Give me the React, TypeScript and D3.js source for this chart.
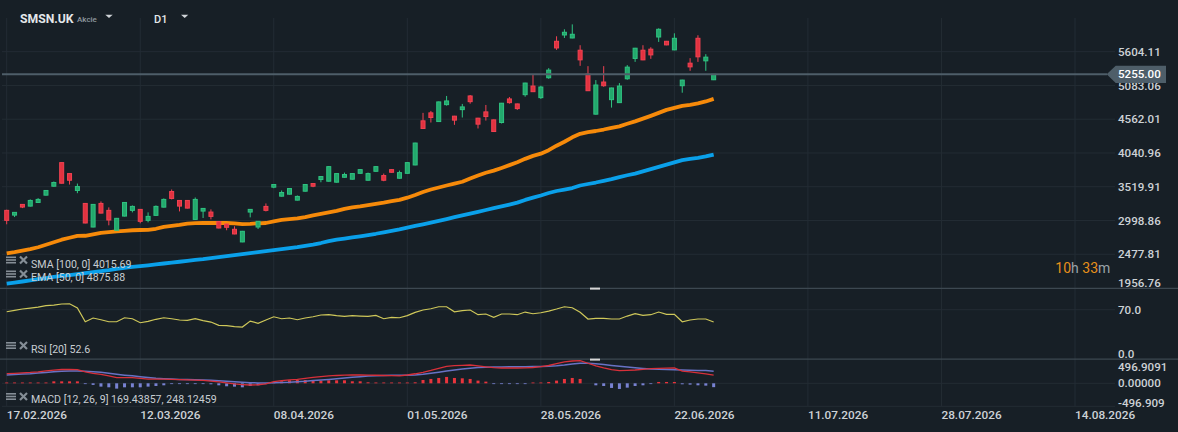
import React from "react";
import * as d3 from "d3";

const symbolName = "SMSN.UK";
const assetType = "Akcie";
const timeframe = "D1";
const legendSMA = "SMA [100, 0] 4015.69";
const legendEMA = "EMA [50, 0] 4875.88";
const legendRSI = "RSI [20] 52.6";
const legendMACD = "MACD [12, 26, 9] 169.43857, 248.12459";
const countdown = ["10", "h ", "33", "m"];

const dateLabels = ["17.02.2026", "12.03.2026", "08.04.2026", "01.05.2026", "28.05.2026", "22.06.2026", "11.07.2026", "28.07.2026", "14.08.2026"];
const dateTickIdx = [0, 17, 34, 51, 68, 85, 102, 119, 136];

const priceTicks = [5604.11, 5083.06, 4562.01, 4040.96, 3519.91, 2998.86, 2477.81, 1956.76];
const priceTickLabels = ["5604.11", "5083.06", "4562.01", "4040.96", "3519.91", "2998.86", "2477.81", "1956.76"];
const rsiTicks = [70, 0];
const rsiTickLabels = ["70.0", "0.0"];
const macdTicks = [496.9091, 0, -496.909];
const macdTickLabels = ["496.9091", "0.00000", "-496.909"];
const lastPrice = 5255.0;
const lastPriceLabel = "5255.00";

const openP = [3155, 3082, 3247, 3221, 3277, 3390, 3528, 3892, 3723, 3462,
  3262, 2898, 3262, 3155, 2848, 3067, 3155, 3170, 3001, 3078,
  3205, 3446, 3308, 3308, 3016, 3144, 3129, 2981, 2944, 2863,
  2668, 3129, 2898, 3216, 3513, 3374, 3405, 3313, 3451, 3569,
  3631, 3605, 3590, 3666, 3636, 3727, 3620, 3758, 3692, 3784,
  3651, 3727, 3856, 4537, 4660, 4526, 4787, 4609, 4710, 4921,
  4578, 4675, 4552, 4511, 4875, 4798, 4941, 5074, 4895, 5202,
  5765, 5862, 5816, 5627, 5259, 4640, 5136, 4864, 4818, 5186,
  5500, 5627, 5643, 5831, 5765, 5632, 5079, 5427, 5811, 5463,
  5171];
const highP = [3165, 3128, 3250, 3324, 3344, 3468, 3600, 3895, 3728, 3569,
  3268, 3250, 3293, 3201, 3038, 3283, 3231, 3175, 3124, 3231,
  3339, 3477, 3313, 3313, 3354, 3190, 3170, 2990, 2950, 2909,
  2838, 3175, 2990, 3262, 3560, 3462, 3498, 3385, 3560, 3575,
  3682, 3836, 3728, 3738, 3728, 3790, 3738, 3836, 3723, 3790,
  3769, 3897, 4199, 4660, 4690, 4834, 4921, 4614, 4798, 4936,
  4583, 4782, 4557, 4813, 4905, 4803, 5125, 5259, 5079, 5351,
  5842, 5950, 6026, 5704, 5381, 5166, 5381, 5049, 5120, 5397,
  5663, 5704, 5673, 5965, 5770, 5888, 5171, 5504, 5858, 5566,
  5259];
const lowP = [2940, 3052, 3190, 3215, 3272, 3385, 3523, 3570, 3554, 3420,
  2955, 2893, 3108, 2924, 2840, 3062, 3124, 2955, 2970, 3072,
  3200, 3324, 3139, 3185, 3010, 3037, 3016, 2878, 2848, 2786,
  2663, 3047, 2867, 3139, 3497, 3369, 3400, 3308, 3446, 3513,
  3589, 3600, 3585, 3661, 3631, 3723, 3615, 3753, 3605, 3738,
  3646, 3723, 3851, 4414, 4511, 4521, 4772, 4475, 4588, 4802,
  4419, 4541, 4368, 4496, 4802, 4706, 4910, 4982, 4875, 5186,
  5632, 5816, 5811, 5386, 4997, 4634, 5063, 4741, 4813, 5171,
  5447, 5473, 5494, 5755, 5704, 5627, 4971, 5309, 5447, 5309,
  5166];
const closeP = [3001, 3124, 3206, 3308, 3324, 3462, 3585, 3574, 3620, 3523,
  2960, 3247, 3113, 3006, 3032, 3277, 3216, 2986, 3062, 3216,
  3324, 3339, 3221, 3190, 3324, 3185, 3062, 2883, 2894, 2791,
  2832, 3170, 2986, 3155, 3554, 3431, 3492, 3370, 3554, 3528,
  3677, 3830, 3723, 3708, 3723, 3784, 3723, 3830, 3620, 3743,
  3738, 3892, 4194, 4419, 4588, 4829, 4844, 4548, 4752, 4833,
  4486, 4603, 4372, 4809, 4818, 4726, 5120, 4987, 5059, 5320,
  5662, 5904, 5873, 5478, 5002, 5090, 5079, 5044, 5074, 5366,
  5658, 5478, 5555, 5950, 5709, 5811, 5166, 5370, 5525, 5520,
  5255];

const emaVals = [2490, 2510, 2533, 2556, 2586, 2625, 2663, 2702, 2732, 2760,
  2763, 2786, 2809, 2820, 2832, 2840, 2848, 2852, 2855, 2871,
  2901, 2917, 2932, 2950, 2958, 2960, 2960, 2960, 2960, 2955,
  2944, 2947, 2955, 2960, 2986, 3009, 3021, 3032, 3052, 3078,
  3101, 3124, 3147, 3178, 3201, 3216, 3235, 3255, 3274, 3296,
  3317, 3351, 3393, 3439, 3477, 3508, 3539, 3569, 3597, 3646,
  3692, 3735, 3769, 3810, 3853, 3899, 3950, 3996, 4030, 4084,
  4153, 4214, 4283, 4337, 4363, 4380, 4403, 4429, 4452, 4491,
  4529, 4571, 4614, 4660, 4706, 4736, 4767, 4783, 4806, 4836,
  4876];
const smaVals = [2023, 2040, 2057, 2074, 2092, 2110, 2129, 2144, 2156, 2172,
  2187, 2203, 2218, 2233, 2252, 2267, 2282, 2295, 2307, 2321,
  2335, 2348, 2362, 2376, 2390, 2402, 2418, 2433, 2448, 2464,
  2479, 2494, 2510, 2525, 2540, 2556, 2571, 2586, 2608, 2628,
  2651, 2679, 2702, 2720, 2737, 2755, 2774, 2794, 2817, 2840,
  2863, 2889, 2914, 2940, 2967, 2993, 3021, 3050, 3078, 3106,
  3133, 3161, 3189, 3216, 3244, 3274, 3316, 3351, 3385, 3423,
  3454, 3477, 3500, 3539, 3562, 3585, 3611, 3638, 3669, 3697,
  3723, 3757, 3792, 3827, 3861, 3896, 3930, 3949, 3964, 3987,
  4016];
const rsiVals = [67.1, 69.1, 71, 72.3, 73.8, 75.7, 76.6, 78.1, 78.5, 72.4,
  52.9, 58.2, 55.8, 52.9, 52.9, 58.6, 57.2, 51.5, 53.5, 56.4,
  58.6, 57.2, 55.4, 54.9, 57.2, 54.6, 52.5, 47.8, 47.3, 46.1,
  45.4, 53.9, 50.7, 55.4, 60, 57.2, 58.2, 55.8, 58.2, 60,
  62.5, 62.9, 61.5, 60.6, 61.5, 61, 60.6, 62, 57.2, 59.2,
  58.6, 61.7, 66.3, 69.6, 71.4, 74.2, 74.2, 67.1, 68.6, 69.6,
  62.9, 63.9, 59.2, 63.9, 63.9, 62.9, 66.7, 64.3, 65.7, 68.1,
  71, 74.2, 72.8, 66.3, 56.8, 57.8, 57.8, 56.8, 56.8, 61,
  64.3, 62, 62.9, 66.7, 63.4, 63.4, 52.9, 55.4, 56.8, 56.8,
  52.6];
const macdVals = [196, 205, 214, 222, 235, 252, 268, 282, 286, 280,
  235, 205, 182, 150, 118, 115, 115, 100, 85, 84,
  87, 82, 76, 70, 64, 58, 45, 30, 10, -12,
  -25, -35, -30, -10, 33, 55, 68, 80, 100, 120,
  135, 150, 160, 166, 170, 170, 168, 165, 160, 155,
  150, 170, 195, 225, 262, 307, 348, 360, 368, 374,
  358, 337, 319, 313, 313, 313, 317, 323, 339, 364,
  401, 436, 456, 462, 410, 355, 315, 280, 258, 265,
  272, 285, 299, 305, 310, 313, 250, 233, 215, 193,
  169];
const signalVals = [170, 180, 190, 197, 210, 222, 235, 245, 252, 250,
  245, 236, 225, 205, 185, 167, 152, 136, 120, 105,
  95, 88, 80, 76, 73, 68, 60, 50, 40, 30,
  20, 12, 8, 6, 10, 14, 20, 30, 40, 55,
  68, 80, 95, 108, 122, 135, 148, 155, 160, 163,
  165, 167, 172, 184, 204, 227, 252, 272, 292, 309,
  321, 329, 333, 335, 337, 339, 339, 341, 346, 350,
  358, 374, 395, 409, 409, 399, 382, 366, 350, 333,
  317, 303, 292, 286, 280, 276, 272, 268, 264, 260,
  248];
const histVals = [15, 15, 15, 15, 15, 15, 40, 40, 40, 40,
  -15, -33, -68, -82, -109, -82, -82, -82, -68, -55,
  -41, -14, -4, -3, -2, -3, -20, -41, -61, -68,
  -82, -55, -41, -6, 5, 41, 61, 68, 68, 61,
  55, 61, 61, 61, 41, 41, 20, 14, 3, 3,
  3, 2, 20, 68, 89, 109, 130, 109, 102, 89,
  55, 34, -14, -14, -14, -14, -5, 3, 5, 27,
  55, 89, 109, 89, 0, -41, -55, -95, -116, -89,
  -55, -41, -14, 27, 27, 27, -20, -27, -41, -48,
  -79];

const BG = "#171f26";
const GRID = "#232c34";
const SEP = "#3d4851";
const TXT = "#cdd2d6";
const UP = "#23a86c";
const UP_EDGE = "#2fc482";
const DOWN = "#e2323f";
const DOWN_EDGE = "#f24252";
const FONT = "Roboto, 'Noto Sans', sans-serif";

function LegendIcon({ x, y }: { x: number; y: number }) {
  return (
    <g>
      <rect x={x} y={y} width={10} height={1.6} fill="#858e96" />
      <rect x={x} y={y + 2.7} width={10} height={1.6} fill="#858e96" />
      <rect x={x} y={y + 5.4} width={10} height={1.6} fill="#858e96" />
      <line x1={x + 14} y1={y} x2={x + 21} y2={y + 7} stroke="#858e96" strokeWidth={2.2} />
      <line x1={x + 21} y1={y} x2={x + 14} y2={y + 7} stroke="#858e96" strokeWidth={2.2} />
    </g>
  );
}

export default function App() {
  const W = 1178;
  const H = 432;
  const n = closeP.length;
  const idx = d3.range(n);

  const x = d3.scaleLinear().domain([0, 136]).range([6.7, 1075]);
  const y = d3.scaleLinear().domain([1956.76, 5604.11]).range([288, 51.7]);
  const yR = d3.scaleLinear().domain([0, 100]).range([359, 288.6]);
  const yM = d3.scaleLinear().domain([-496.909, 496.9091]).range([407.6, 359]);

  const gridRight = 1115;
  const labelX = 1118;

  const lineP = (vals: number[], sc: d3.ScaleLinear<number, number>) =>
    d3.line<number>().x((_, i) => x(i)).y((d) => sc(d)).curve(d3.curveLinear)(vals) || "";

  const clamp = (v: number, a: number, b: number) => Math.max(a, Math.min(b, v));
  const fsAx = 11.6;
  const base = (c: number, fs: number) => c + fs * 0.36;

  const yLast = y(lastPrice);
  const barW = 3;

  return (
    <div style={{ position: "fixed", left: 0, top: 0, width: W, height: H, background: BG }}>
      <svg width={W} height={H} style={{ display: "block", fontFamily: FONT }}>
        <rect x={0} y={0} width={W} height={H} fill={BG} />

        {/* vertical grid */}
        {dateTickIdx.map((t, i) => (
          <line key={"vg" + i} x1={x(t)} x2={x(t)} y1={18} y2={406} stroke={GRID} strokeWidth={1} />
        ))}
        {/* horizontal price grid */}
        {priceTicks.slice(0, -1).map((v, i) => (
          <line key={"hg" + i} x1={2} x2={gridRight} y1={y(v)} y2={y(v)} stroke={GRID} strokeWidth={1} />
        ))}
        {/* rsi 70 grid */}
        <line x1={2} x2={gridRight} y1={yR(70)} y2={yR(70)} stroke={GRID} strokeWidth={1} />
        {/* macd zero grid */}
        <line x1={2} x2={gridRight} y1={yM(0)} y2={yM(0)} stroke={GRID} strokeWidth={1} />
        {/* x axis line */}
        <line x1={2} x2={gridRight} y1={406.3} y2={406.3} stroke={GRID} strokeWidth={1} />

        {/* panel separators */}
        <line x1={0} x2={W} y1={288.3} y2={288.3} stroke={SEP} strokeWidth={1.3} />
        <line x1={0} x2={W} y1={359.2} y2={359.2} stroke={SEP} strokeWidth={1.3} />
        <rect x={590} y={287.6} width={10} height={2} fill="#d6d6d6" />
        <rect x={590} y={358.6} width={10} height={2} fill="#d6d6d6" />

        {/* moving averages */}
        <path d={lineP(smaVals, y)} fill="none" stroke="#0aa0ea" strokeWidth={3.8} strokeLinejoin="round" />
        <path d={lineP(emaVals, y)} fill="none" stroke="#f68a0a" strokeWidth={3.8} strokeLinejoin="round" />

        {/* candles */}
        {idx.map((i) => {
          const up = closeP[i] >= openP[i];
          const col = up ? UP : DOWN;
          const edge = up ? UP_EDGE : DOWN_EDGE;
          const top = y(Math.max(openP[i], closeP[i]));
          const bot = y(Math.min(openP[i], closeP[i]));
          const cx = x(i);
          return (
            <g key={"c" + i}>
              <line x1={cx} x2={cx} y1={y(highP[i])} y2={y(lowP[i])} stroke={edge} strokeWidth={1} />
              <rect x={cx - 2} y={top} width={4} height={Math.max(1, bot - top)} fill={col} stroke={edge} strokeWidth={1} />
            </g>
          );
        })}

        {/* last price line */}
        <line x1={2} x2={1107} y1={yLast} y2={yLast} stroke="#4e5e69" strokeWidth={2} />

        {/* price axis labels */}
        {priceTicks.map((v, i) => (
          <text key={"pl" + i} x={labelX} y={base(clamp(y(v), 18, 283.3), fsAx)} fontSize={fsAx} fontWeight={500} fill={TXT}>
            {priceTickLabels[i]}
          </text>
        ))}
        {/* last price tag */}
        <path
          d={`M1106.7,${yLast} L1115.7,${yLast - 8.6} L1166,${yLast - 8.6} L1166,${yLast + 8.8} L1115.7,${yLast + 8.8} Z`}
          fill="#4e5e69"
        />
        <text x={labelX} y={base(yLast, fsAx)} fontSize={fsAx} fontWeight={500} fill="#ffffff">
          {lastPriceLabel}
        </text>

        {/* countdown */}
        <text x={1055.3} y={273.3} fontSize={14} fill="#9aa3aa">
          <tspan fill="#e8901a">{countdown[0]}</tspan>
          <tspan>{countdown[1].trim()}</tspan>
          <tspan dx={3.5} fill="#e8901a">{countdown[2]}</tspan>
          <tspan>{countdown[3]}</tspan>
        </text>

        {/* RSI */}
        <path d={lineP(rsiVals, yR)} fill="none" stroke="#cfc85a" strokeWidth={1.2} />
        {rsiTicks.map((v, i) => (
          <text key={"rl" + i} x={labelX} y={base(clamp(yR(v), 293, 354), fsAx)} fontSize={fsAx} fontWeight={500} fill={TXT}>
            {rsiTickLabels[i]}
          </text>
        ))}

        {/* MACD histogram */}
        {idx.map((i) => {
          const v = histVals[i];
          if (v === 0) return null;
          const y0 = yM(0);
          const y1 = yM(v);
          const h = Math.max(0.8, Math.abs(y1 - y0));
          return (
            <rect
              key={"h" + i}
              x={x(i) - barW / 2}
              y={v > 0 ? y0 - h : y0}
              width={barW}
              height={h}
              fill={v > 0 ? "#e8343c" : "#7882d2"}
            />
          );
        })}
        <path d={lineP(signalVals, yM)} fill="none" stroke="#6872c4" strokeWidth={1.5} />
        <path d={lineP(macdVals, yM)} fill="none" stroke="#d8303a" strokeWidth={1.3} />
        {macdTicks.map((v, i) => (
          <text key={"ml" + i} x={labelX} y={base(clamp(yM(v), 366.7, 403.3), fsAx)} fontSize={fsAx} fontWeight={500} fill={TXT}>
            {macdTickLabels[i]}
          </text>
        ))}

        {/* date labels */}
        {dateTickIdx.map((t, i) => (
          <text key={"dl" + i} x={x(t)} y={base(415, 11.8)} fontSize={11.8} fontWeight={500} fill={TXT}>
            {dateLabels[i]}
          </text>
        ))}

        {/* legends */}
        <LegendIcon x={6} y={256.5} />
        <text x={31} y={base(263.7, 10.6)} fontSize={10.6} fill="#c8cdd2">{legendSMA}</text>
        <LegendIcon x={6} y={270.5} />
        <text x={31} y={base(277.3, 10.6)} fontSize={10.6} fill="#c8cdd2">{legendEMA}</text>
        <LegendIcon x={6} y={342} />
        <text x={31} y={base(348.7, 10.6)} fontSize={10.6} fill="#c8cdd2">{legendRSI}</text>
        <LegendIcon x={6} y={393} />
        <text x={31} y={base(399.2, 10.6)} fontSize={10.6} fill="#c8cdd2">{legendMACD}</text>

        {/* header */}
        <text x={20} y={base(19, 12.2)} fontSize={12.2} fontWeight={700} fill="#e4e7ea">{symbolName}</text>
        <text x={77} y={base(19.3, 8)} fontSize={8} fontWeight={500} fill="#8f989f">{assetType}</text>
        <path d="M105.3,14.7 L112.7,14.7 L109,18 Z" fill="#d0d4d8" />
        <text x={154} y={base(19.5, 11)} fontSize={11} fontWeight={500} fill="#e4e7ea">{timeframe}</text>
        <path d="M181,14.7 L188.3,14.7 L184.7,18 Z" fill="#d0d4d8" />
      </svg>
    </div>
  );
}
